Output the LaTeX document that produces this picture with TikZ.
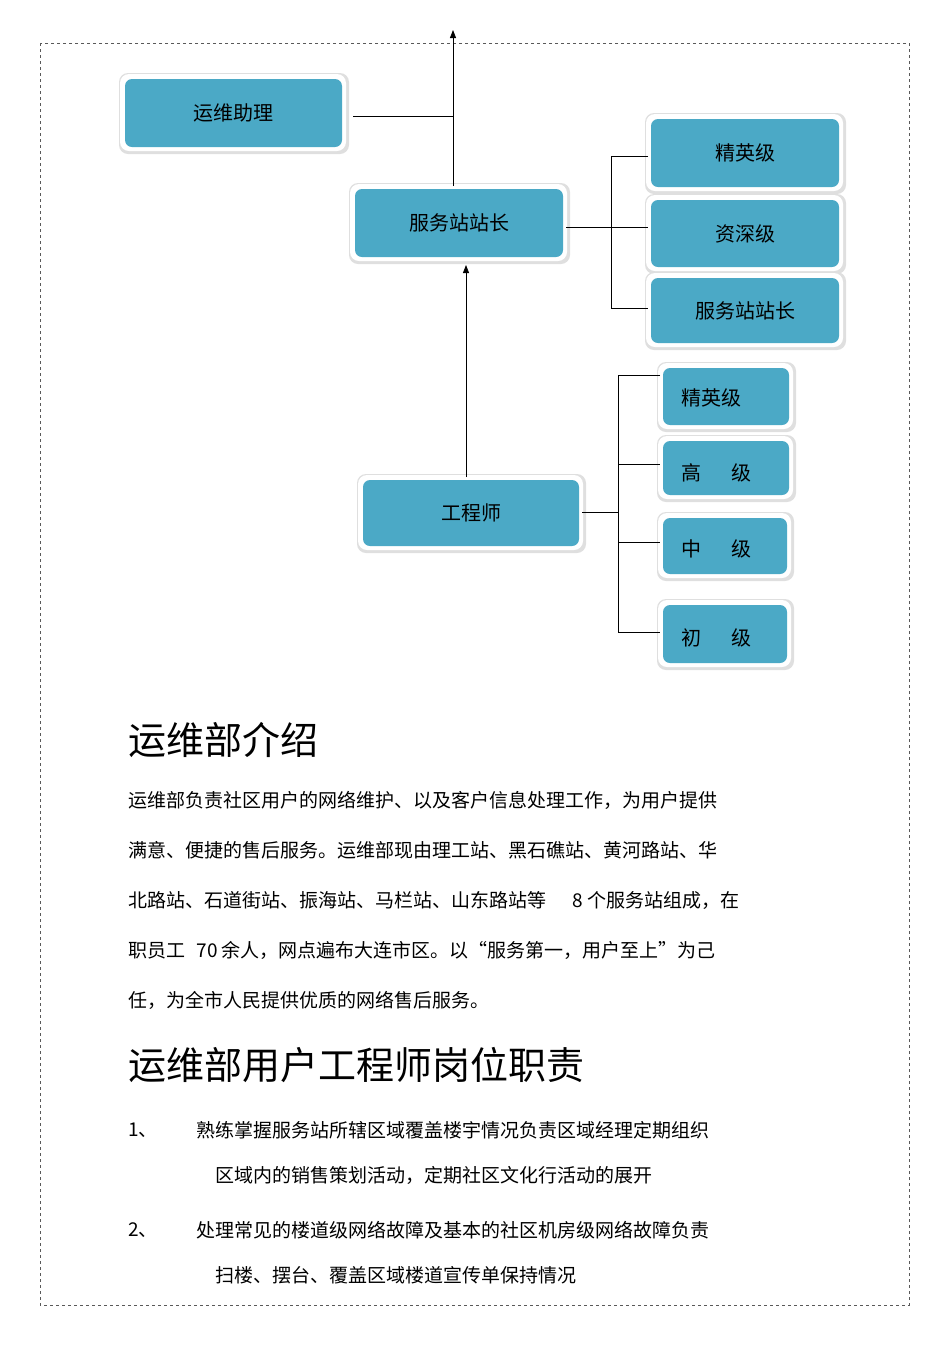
\documentclass[tikz,border=0pt]{standalone}
\usepackage{fontspec}
\setmainfont{Noto Sans CJK SC}
\usetikzlibrary{arrows.meta}
\definecolor{boxblue}{HTML}{4BA9C6}
\begin{document}
\begin{tikzpicture}[x=1pt,y=-1pt,
  bx/.style={draw=white,line width=3pt,fill=boxblue,rounded corners=8pt,font=\fontsize{20}{22}\selectfont,
    double=gray!35,double distance=0pt, drop shadow/.style={}},
  ln/.style={line width=0.8pt},
  tx/.style={anchor=west,font=\fontsize{19}{22}\selectfont,inner sep=0}]
\useasboundingbox (0,0) rectangle (950,1345);
\draw[dashed,gray!70!black,line width=0.6pt] (40,43) rectangle (909,1305);
\newcommand\bbox[6]{%
  \fill[gray!25,rounded corners=9pt] (#1-3,#2-3) rectangle (#3+4,#4+4);
  \fill[white,rounded corners=9pt] (#1-2,#2-2) rectangle (#3+1,#4+1);
  \path[fill=boxblue,rounded corners=7pt] (#1+3,#2+3) rectangle (#3-3,#4-3);
  \node[font=\fontsize{20}{22}\selectfont] (#5) at ({(#1+#3)/2},{(#2+#4)/2}) {#6};}
\bbox{122}{76}{345}{150}{a}{运维助理}
\bbox{352}{186}{566}{260}{b}{服务站站长}
\bbox{648}{116}{842}{190}{c1}{精英级}
\bbox{648}{197}{842}{270}{c2}{资深级}
\bbox{648}{275}{842}{346}{c3}{服务站站长}
\bbox{360}{477}{582}{549}{e}{工程师}
\bbox{660}{365}{792}{428}{d1}{}
\bbox{660}{438}{792}{498}{d2}{}
\bbox{660}{515}{790}{577}{d3}{}
\bbox{660}{602}{790}{666}{d4}{}
\node[anchor=west,font=\fontsize{20}{22}\selectfont] at (678,398) {精英级};
\node[anchor=west,font=\fontsize{20}{22}\selectfont] at (678,473) {高\hspace{1.5em}级};
\node[anchor=west,font=\fontsize{20}{22}\selectfont] at (678,549) {中\hspace{1.5em}级};
\node[anchor=west,font=\fontsize{20}{22}\selectfont] at (678,638) {初\hspace{1.5em}级};
\coordinate (top) at (453,30);
\draw[ln,-{Triangle[length=8pt,width=6pt]}] (453,186) -- (top);
\draw[ln] (353,116) -- (453,116);
\draw[ln,-{Triangle[length=8pt,width=6pt]}] (466,477) -- (466,265);
\draw[ln] (566,227) -- (648,227);
\draw[ln] (648,156) -- (611,156) -- (611,308) -- (648,308);
\draw[ln] (582,512) -- (618,512);
\draw[ln] (660,375) -- (618,375) -- (618,632) -- (660,632);
\draw[ln] (618,464) -- (660,464);
\draw[ln] (618,542) -- (660,542);
\node[tx,font=\fontsize{38}{40}\selectfont] at (128,740) {运维部介绍};
\node[tx] at (128,800) {运维部负责社区用户的网络维护、以及客户信息处理工作，为用户提供};
\node[tx] at (128,850) {满意、便捷的售后服务。运维部现由理工站、黑石礁站、黄河路站、华};
\node[tx] at (128,900) {北路站、石道街站、振海站、马栏站、山东路站等\hspace{1.4em}8 个服务站组成，在};
\node[tx] at (128,950) {职员工\hspace{0.6em}70 余人，网点遍布大连市区。以“服务第一，用户至上”为己};
\node[tx] at (128,1000) {任，为全市人民提供优质的网络售后服务。};
\node[tx,font=\fontsize{38}{40}\selectfont] at (128,1065) {运维部用户工程师岗位职责};
\node[tx] at (128,1130) {1、};
\node[tx] at (196,1130) {熟练掌握服务站所辖区域覆盖楼宇情况负责区域经理定期组织};
\node[tx] at (215,1175) {区域内的销售策划活动，定期社区文化行活动的展开};
\node[tx] at (128,1230) {2、};
\node[tx] at (196,1230) {处理常见的楼道级网络故障及基本的社区机房级网络故障负责};
\node[tx] at (215,1275) {扫楼、摆台、覆盖区域楼道宣传单保持情况};
\end{tikzpicture}
\end{document}
